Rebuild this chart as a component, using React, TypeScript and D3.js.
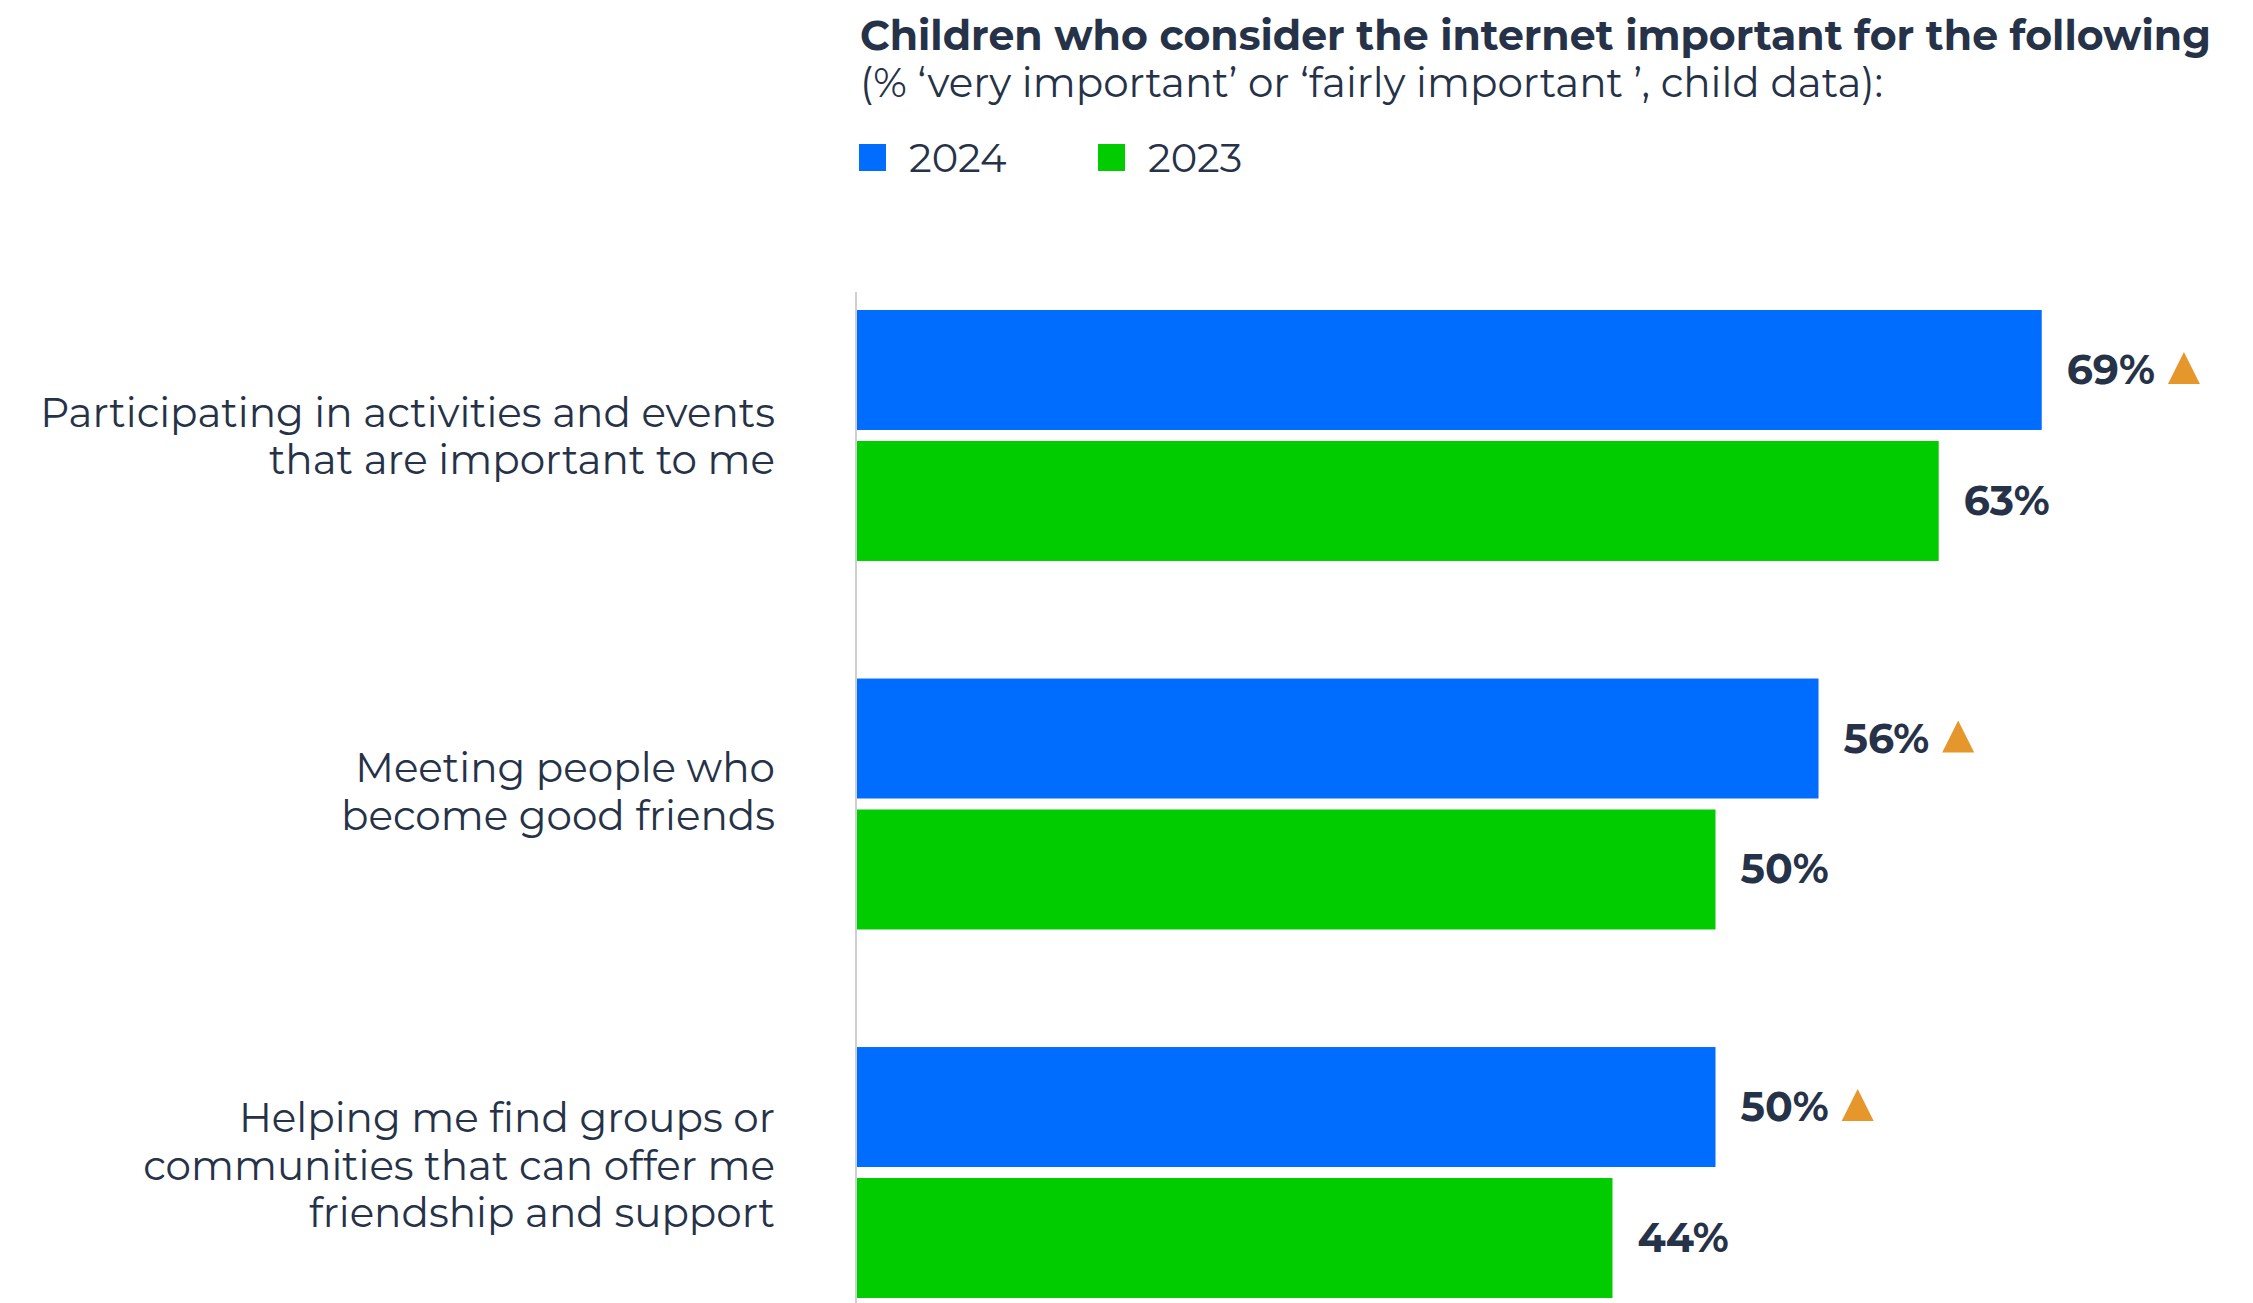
import React from "react";
import * as d3 from "d3";

const categories = [
  ["Participating in activities and events", "that are important to me"],
  ["Meeting people who", "become good friends"],
  ["Helping me find groups or", "communities that can offer me", "friendship and support"],
];
const categoryKeys = ["activities", "friends", "groups"];
const seriesNames = ["2024", "2023"];
const values2024 = [69, 56, 50];
const values2023 = [63, 50, 44];
const significantUp2024 = [true, true, true];
const titleText = "Children who consider the internet important for the following";
const subtitleText = "(% \u2018very important\u2019 or \u2018fairly important \u2019, child data):";

const W = 2253;
const H = 1303;
const TEXT = "#263247";
const BLUE = "#006DFF";
const GREEN = "#00CC00";
const ORANGE = "#E5972B";
const FONT = "Montserrat, 'DejaVu Sans', sans-serif";
const labelNudge = [3, -10, -5];

let ctx: CanvasRenderingContext2D | null = null;
function measure(text: string, size: number, weight: number): number {
  if (!ctx) {
    const c = document.createElement("canvas");
    ctx = c.getContext("2d");
  }
  if (!ctx) return text.length * size * 0.6;
  ctx.font = `${weight} ${size}px ${FONT}`;
  return ctx.measureText(text).width;
}

export default function App() {
  const x = d3.scaleLinear().domain([0, 100]).range([857, 2574]);
  const y = d3.scaleBand<string>().domain(categoryKeys).range([310, 1298]).paddingInner(0.319).paddingOuter(0);
  const ySub = d3.scaleBand<string>().domain(seriesNames).range([0, y.bandwidth()]).paddingInner(0.084);
  const color = d3.scaleOrdinal<string, string>().domain(seriesNames).range([BLUE, GREEN]);
  const series = [values2024, values2023];

  const labelFont = 40.5;
  const lineH = 47.5;
  const valueFont = 41;

  return (
    <svg width={W} height={H} style={{ position: "absolute", left: 0, top: 0, background: "#fff" }} fontFamily={FONT}>
      <rect x={0} y={0} width={W} height={H} fill="#fff" />
      <text x={860} y={50} fontSize={41} fontWeight={700} fill={TEXT}>{titleText}</text>
      <text x={860} y={97} fontSize={40.5} fill={TEXT}>{subtitleText}</text>
      {seriesNames.map((s, i) => {
        const lx = 859 + i * 239;
        return (
          <g key={s}>
            <rect x={lx} y={144} width={27} height={27} fill={color(s)} />
            <text x={lx + 50} y={172} fontSize={40} fill={TEXT}>{s}</text>
          </g>
        );
      })}
      <line x1={856} x2={856} y1={292} y2={H} stroke="#cfcfcf" strokeWidth={2} />
      {categoryKeys.map((k, ci) => {
        const gy = y(k)!;
        const lines = categories[ci];
        const cy = gy + y.bandwidth() / 2;
        const firstBase = cy - ((lines.length - 1) * lineH) / 2 + 12 + labelNudge[ci];
        return (
          <g key={k}>
            <text x={775} y={0} fontSize={labelFont} fill={TEXT} textAnchor="end">
              {lines.map((ln, li) => (
                <tspan key={li} x={775} y={firstBase + li * lineH}>{ln}</tspan>
              ))}
            </text>
            {seriesNames.map((s, si) => {
              const v = series[si][ci];
              const by = gy + ySub(s)!;
              const bh = ySub.bandwidth();
              const lx = x(v) + 25;
              const base = by + bh / 2 + 14;
              const label = `${v}%`;
              const tw = measure(label, valueFont, 700);
              const showTri = si === 0 && significantUp2024[ci];
              const tx = lx + tw + 13;
              return (
                <g key={s}>
                  <rect x={x(0)} y={by} width={x(v) - x(0)} height={bh} fill={color(s)} />
                  <text x={lx} y={base} fontSize={valueFont} fontWeight={700} fill={TEXT}>{label}</text>
                  {showTri && (
                    <path d={`M${tx},${base} L${tx + 32},${base} L${tx + 16},${base - 32} Z`} fill={ORANGE} />
                  )}
                </g>
              );
            })}
          </g>
        );
      })}
    </svg>
  );
}
